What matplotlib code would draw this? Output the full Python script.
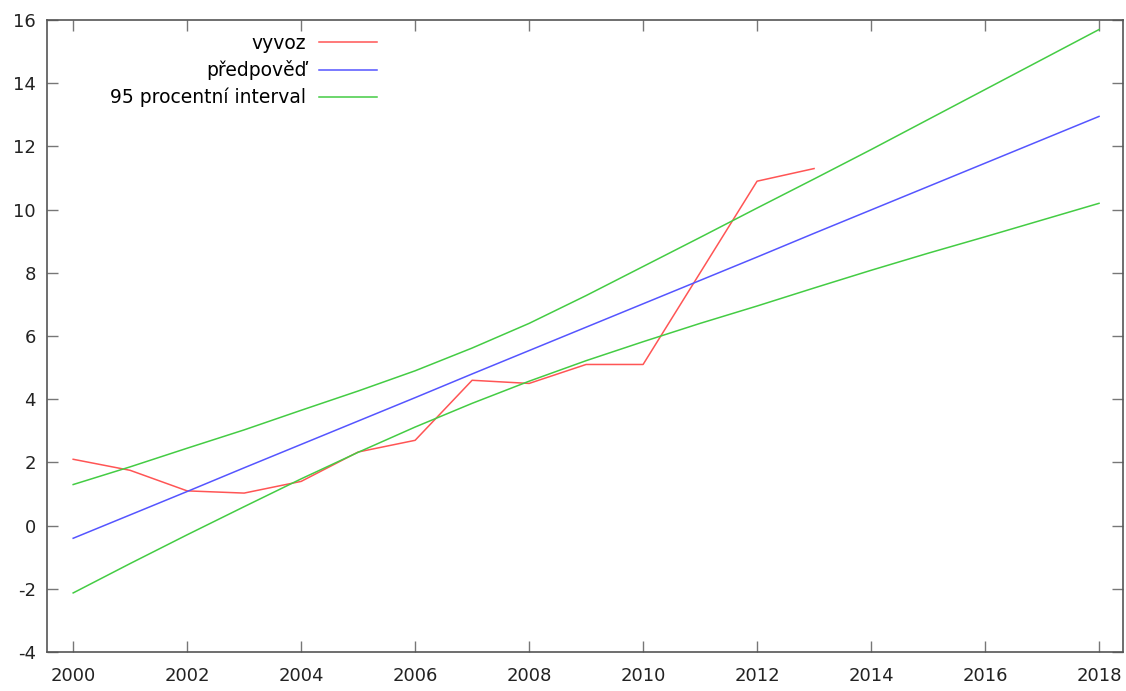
import matplotlib
matplotlib.use("Agg")
import matplotlib.pyplot as plt

plt.rcParams["axes.unicode_minus"] = False

# export (vyvoz), yearly
years = [2000, 2001, 2002, 2003, 2004, 2005, 2006, 2007, 2008, 2009, 2010, 2011, 2012, 2013]
vyvoz = [2.1, 1.75, 1.1, 1.03, 1.4, 2.33, 2.7, 4.6, 4.5, 5.1, 5.1, 8.0, 10.9, 11.3]

# forecast and 95 % band
fc_years = list(range(2000, 2019))
forecast = [-0.4, 0.34, 1.08, 1.83, 2.57, 3.31, 4.05, 4.8, 5.54, 6.28,
            7.02, 7.76, 8.5, 9.25, 9.99, 10.73, 11.47, 12.21, 12.95]
upper = [1.3, 1.86, 2.45, 3.03, 3.65, 4.26, 4.9, 5.62, 6.4, 7.28,
         8.2, 9.12, 10.05, 10.97, 11.9, 12.85, 13.8, 14.75, 15.7]
lower = [-2.13, -1.2, -0.29, 0.6, 1.48, 2.32, 3.12, 3.87, 4.57, 5.22,
         5.82, 6.4, 6.95, 7.52, 8.08, 8.62, 9.14, 9.67, 10.2]

xticks = list(range(2000, 2019, 2))
yticks = list(range(-4, 17, 2))

fig = plt.figure(figsize=(11.26, 6.91), dpi=100)
ax = fig.add_axes([0.0417, 0.0564, 0.9556, 0.9146])

ax.plot(years, vyvoz, color="#ff5555", lw=1.1, label="vyvoz")
ax.plot(fc_years, forecast, color="#5555ff", lw=1.1, label="předpověď")
ax.plot(fc_years, upper, color="#44cc44", lw=1.1, label="95 procentní interval")
ax.plot(fc_years, lower, color="#44cc44", lw=1.1)

ax.set_xlim(1999.54, 2018.42)
ax.set_ylim(-4, 16)
ax.set_xticks(xticks)
ax.set_yticks(yticks)

for s in ax.spines.values():
    s.set_color("#555555")
    s.set_linewidth(1.2)
ax.tick_params(direction="in", length=8, width=1, color="#777777",
               top=True, right=True, labelsize=13, labelcolor="#222222")
ax.tick_params(axis="x", pad=11)
ax.tick_params(axis="y", pad=8)

ax.legend(loc="upper left", bbox_to_anchor=(0.052, 0.99), frameon=False,
          markerfirst=False, fontsize=13.5, handlelength=3.1,
          handletextpad=0.65, labelspacing=0.4, borderaxespad=0)

fig.savefig("out.png", dpi=100, facecolor="white")
